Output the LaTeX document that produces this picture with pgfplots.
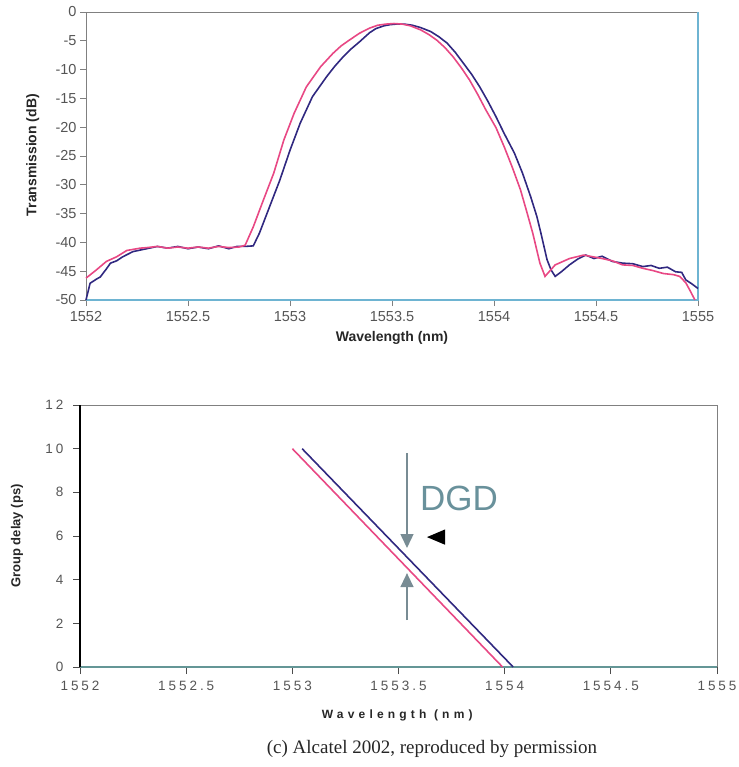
\documentclass[border=0pt]{standalone}
\usepackage{fontspec}
\setmainfont{Liberation Sans}
\newfontfamily\capfont{Liberation Serif}
\usepackage{pgfplots}
\pgfplotsset{compat=1.18}
\usetikzlibrary{arrows.meta}
\definecolor{pinkc}{RGB}{232,72,132}
\definecolor{bluec}{RGB}{48,40,128}
\definecolor{spinegray}{RGB}{128,128,128}
\definecolor{spineblue}{RGB}{110,180,210}
\definecolor{spineteal}{RGB}{100,150,150}
\definecolor{ticktext}{RGB}{85,85,85}
\definecolor{dgdgray}{RGB}{120,140,148}
\definecolor{dgdtext}{RGB}{105,145,155}

\begin{document}
\begin{tikzpicture}
\path[use as bounding box] (0,0) rectangle (738pt,-767pt);

% --- transmission spectrum ---
\begin{axis}[
    at={(86pt,-300pt)}, anchor=south west,
    scale only axis, width=612pt, height=288pt,
    xmin=1552, xmax=1555, ymin=-50, ymax=0,
    xtick={1552,1552.5,1553,1553.5,1554,1554.5,1555},
    xticklabels={1552,1552.5,1553,1553.5,1554,1554.5,1555},
    ytick={-50,-45,-40,-35,-30,-25,-20,-15,-10,-5,0},
    yticklabels={-50,-45,-40,-35,-30,-25,-20,-15,-10,-5,0},
    ticklabel style={font=\fontsize{14.5}{16}\selectfont, text=ticktext},
    xticklabel style={yshift=-2pt},
    tick align=outside, major tick length=6pt,
    tick style={spinegray, thick},
    xtick pos=bottom, ytick pos=left,
    axis line style={draw=none},
    xlabel={Wavelength (nm)}, ylabel={Transmission (dB)},
    label style={font=\fontsize{14}{16}\selectfont\bfseries, text=black!85},
    xlabel style={at={(axis description cs:0.5,-0.13)}, anchor=center},
    ylabel style={at={(axis description cs:-0.087,0.503)}, anchor=center, rotate=0},
    clip=false,
]
\draw[spinegray, thick] (rel axis cs:0,0) -- (rel axis cs:0,1) -- (rel axis cs:1,1);
\draw[spineblue, very thick] (rel axis cs:0,0) -- (rel axis cs:1,0) -- (rel axis cs:1,1);

% blue trace
\addplot[bluec, line width=1.6pt] coordinates {
(1552.00,-50.0) (1552.02,-47.1) (1552.05,-46.4) (1552.07,-46.0) (1552.10,-44.6)
(1552.12,-43.6) (1552.15,-43.2) (1552.18,-42.5) (1552.23,-41.6) (1552.27,-41.3)
(1552.31,-41.0) (1552.35,-40.7) (1552.40,-41.0) (1552.45,-40.7) (1552.50,-41.1)
(1552.55,-40.8) (1552.60,-41.1) (1552.65,-40.6) (1552.70,-41.1) (1552.74,-40.7)
(1552.78,-40.7) (1552.82,-40.6) (1552.85,-38.4) (1552.90,-33.8) (1552.95,-29.2)
(1553.00,-24.0) (1553.05,-19.3) (1553.11,-14.7) (1553.18,-11.2) (1553.22,-9.4)
(1553.26,-7.8) (1553.30,-6.4) (1553.34,-5.2) (1553.39,-3.6) (1553.42,-2.9)
(1553.46,-2.4) (1553.49,-2.2) (1553.52,-2.1) (1553.56,-2.1) (1553.60,-2.3)
(1553.64,-2.7) (1553.69,-3.4) (1553.73,-4.3) (1553.77,-5.4) (1553.81,-7.0)
(1553.85,-8.9) (1553.89,-10.8) (1553.93,-13.0) (1553.97,-15.5) (1554.01,-18.2)
(1554.05,-21.1) (1554.10,-24.5) (1554.14,-28.0) (1554.18,-32.1) (1554.21,-35.5)
(1554.23,-38.4) (1554.26,-43.0) (1554.28,-44.8)
(1554.30,-45.9) (1554.33,-45.1) (1554.37,-43.9) (1554.41,-42.9) (1554.45,-42.2)
(1554.49,-42.8) (1554.53,-42.4) (1554.58,-43.3) (1554.63,-43.6) (1554.68,-43.7)
(1554.73,-44.2) (1554.77,-44.0) (1554.81,-44.5) (1554.85,-44.3) (1554.89,-45.1)
(1554.92,-45.2) (1554.94,-46.5) (1554.97,-47.2) (1555.00,-48.0)
};

% pink trace
\addplot[pinkc, line width=1.6pt] coordinates {
(1552.00,-46.2) (1552.05,-44.8) (1552.10,-43.3) (1552.15,-42.5) (1552.20,-41.4)
(1552.265,-41.0) (1552.30,-40.9) (1552.35,-40.7) (1552.40,-41.0) (1552.45,-40.8)
(1552.50,-41.0) (1552.55,-40.8) (1552.60,-41.0) (1552.65,-40.7) (1552.70,-40.9)
(1552.75,-40.8) (1552.78,-40.5) (1552.82,-37.3) (1552.87,-32.6) (1552.92,-28.0)
(1552.97,-22.2) (1553.02,-17.6) (1553.08,-13.0) (1553.15,-9.5) (1553.21,-7.2)
(1553.25,-5.9) (1553.29,-4.9) (1553.34,-3.7) (1553.39,-2.8) (1553.43,-2.3)
(1553.47,-2.1) (1553.51,-2.0) (1553.55,-2.1) (1553.59,-2.4) (1553.64,-3.1)
(1553.68,-3.9) (1553.72,-4.9) (1553.76,-6.2) (1553.80,-7.8) (1553.84,-9.7)
(1553.88,-11.8) (1553.92,-14.3) (1553.96,-17.0) (1554.01,-20.1) (1554.05,-23.4)
(1554.09,-27.0) (1554.13,-30.9) (1554.16,-34.6) (1554.19,-38.4) (1554.225,-43.6)
(1554.25,-45.9) (1554.27,-45.1)
(1554.30,-43.9) (1554.37,-42.8) (1554.44,-42.2) (1554.50,-42.6) (1554.53,-42.8)
(1554.58,-43.2) (1554.63,-43.9) (1554.68,-44.0) (1554.73,-44.5) (1554.78,-44.9)
(1554.83,-45.4) (1554.88,-45.6) (1554.91,-45.9) (1554.94,-47.0) (1554.96,-48.3)
(1554.985,-50.0)
};
\end{axis}

% --- group delay ---
\begin{axis}[
    at={(80pt,-667pt)}, anchor=south west,
    scale only axis, width=637pt, height=262pt,
    xmin=1552, xmax=1555, ymin=0, ymax=12,
    xtick={1552,1552.5,1553,1553.5,1554,1554.5,1555},
    xticklabels={1552,1552.5,1553,1553.5,1554,1554.5,1555},
    ytick={0,2,4,6,8,10,12},
    yticklabels={0,2,4,6,8,10,12},
    ticklabel style={font=\fontsize{13.5}{15}\selectfont\addfontfeature{LetterSpace=22}, text=ticktext},
    xticklabel style={yshift=-4pt},
    yticklabel style={xshift=-6pt},
    tick align=outside, major tick length=7pt,
    tick style={black!70, thick},
    xtick pos=bottom, ytick pos=left,
    axis line style={draw=none},
    xlabel={Wavelength (nm)}, ylabel={Group delay (ps)},
    xlabel style={font=\fontsize{12}{14}\selectfont\bfseries\addfontfeature{LetterSpace=35}, text=black!85,
        at={(axis description cs:0.498,-0.185)}, anchor=center},
    ylabel style={font=\fontsize{13}{15}\selectfont\bfseries, text=black!85,
        at={(axis description cs:-0.099,0.5)}, anchor=center, rotate=0},
    clip=false,
]
\draw[spinegray, thick] (rel axis cs:0,1) -- (rel axis cs:1,1) -- (rel axis cs:1,0);
\draw[spineteal, very thick] (rel axis cs:0,0) -- (rel axis cs:1,0);
\draw[black, very thick] (rel axis cs:0,0) -- (rel axis cs:0,1);

\addplot[bluec, line width=1.6pt] coordinates {(1553.046,10) (1554.04,0)};
\addplot[pinkc, line width=1.6pt] coordinates {(1553.0,10) (1553.99,0)};

\draw[dgdgray, line width=1.4pt, -{Triangle[width=13pt,length=14pt]}]
    (axis cs:1553.54,9.8) -- (axis cs:1553.54,5.45);
\draw[dgdgray, line width=1.4pt, -{Triangle[width=13pt,length=14pt]}]
    (axis cs:1553.54,2.15) -- (axis cs:1553.54,4.3);
\fill[black] (axis cs:1553.634,5.95) -- (axis cs:1553.719,6.30) -- (axis cs:1553.719,5.60) -- cycle;
\node[text=dgdtext, font=\fontsize{35}{40}\selectfont] at (axis cs:1553.785,7.74) {DGD};
\end{axis}

\node[font=\capfont\fontsize{19}{22}\selectfont, text=black!85] at (432pt,-749pt)
    {(c) Alcatel 2002, reproduced by permission};
\end{tikzpicture}
\end{document}
